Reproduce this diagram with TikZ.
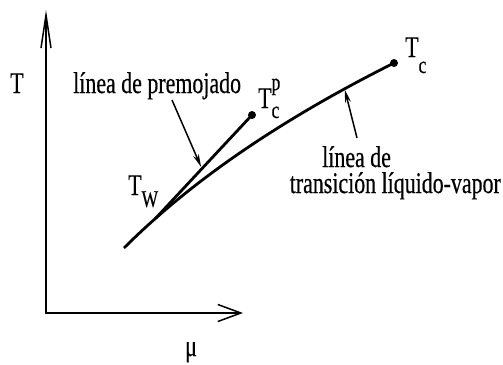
\documentclass[tikz,border=0pt]{standalone}
\usepackage{fontspec}
\setmainfont[FakeStretch=0.73, FakeBold=0.4]{Liberation Serif}
\usetikzlibrary{arrows.meta}

% small raised/lowered index for the labels
\newcommand{\idx}[2]{\raisebox{#1}{\fontsize{24}{24}\selectfont #2}}

\begin{document}
\begin{tikzpicture}[x=1pt, y=-1pt,
    % --- STYLES ---
    lbl/.style={inner sep=0pt, anchor=base west, font=\fontsize{30}{34}\selectfont},
    axis/.style={line width=1.5pt, line cap=rect},
    curve/.style={line width=2.8pt},
    pointer/.style={-{Stealth[length=13pt,width=6pt]}, line width=1.5pt},
    dot/.style={circle, fill, inner sep=0pt, minimum size=8pt}
]
    \useasboundingbox (0,0) rectangle (503,364);

    % --- AXES ---
    \coordinate (origin) at (46,313);
    \coordinate (ytip) at (46,10);
    \coordinate (xtip) at (243,313);
    \draw[axis, -{Straight Barb[length=33pt,width=10pt]}] (origin) -- (ytip);
    \draw[axis, -{Straight Barb[length=23pt,width=17pt]}] (origin) -- (xtip);

    \node[lbl] (tlbl) at (10,93) {T};
    \node[lbl] (mulbl) at (185,356) {μ};

    % --- CURVES ---
    \node[dot] (tc) at (394,63) {};
    \node[dot] (tcp) at (252,115) {};
    \coordinate (low) at (124,248);

    % transition line, Tw and arrow target taken on it
    \draw[curve] (low) .. controls (190.7,181.3) and (280.7,119.7) .. (tc.center)
        coordinate[pos=0.15] (tw) coordinate[pos=0.85] (onliq);
    % prewetting line
    \draw[curve] (tw) -- (tcp.center) coordinate[pos=0.48] (onpre);

    % --- LABELS ---
    \node[lbl] (tclbl) at (405,57) {T\idx{-16pt}{c}};
    \node[lbl] (tcplbl) at (258,108) {T\rlap{\idx{-10pt}{c}}\idx{18pt}{p}};
    \node[lbl] (twlbl) at (128,195) {T\idx{-12pt}{W}};
    \node[lbl] (prelbl) at (73,93) {línea de premojado};
    \node[lbl] (liqlbl1) at (322,167) {línea de};
    \node[lbl, anchor=base east] (liqlbl2) at (501,193) {transición líquido-vapor};

    % --- POINTERS ---
    \coordinate (pretail) at (172,100);
    \coordinate (liqtail) at (357,138);
    \draw[pointer, shorten >=2pt] (pretail) -- (onpre);
    \draw[pointer, shorten >=1pt] (liqtail) -- (onliq);

\end{tikzpicture}
\end{document}
